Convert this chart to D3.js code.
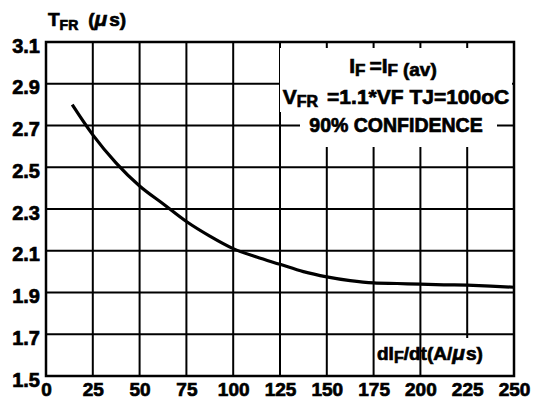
<!DOCTYPE html>
<html><head><meta charset="utf-8">
<script src="https://cdn.jsdelivr.net/npm/d3@7/dist/d3.min.js"></script>
<style>
html,body{margin:0;padding:0;background:#fff;}
svg text{font-family:"Liberation Sans",Arial,sans-serif;font-weight:bold;fill:#000;stroke:#000;stroke-width:0.7px;}
</style></head>
<body>
<svg id="chart" width="534" height="410"></svg>
<script>
// Data
const xTickValues = [0, 25, 50, 75, 100, 125, 150, 175, 200, 225, 250];
const yTickValues = [1.5, 1.7, 1.9, 2.1, 2.3, 2.5, 2.7, 2.9, 3.1];
const diDt = [14, 25, 37.5, 50, 62.5, 75, 87.5, 100, 112.5, 125, 137.5, 150, 162.5, 175, 187.5, 200, 212.5, 225, 237.5, 250];
const tfr  = [2.80, 2.655, 2.52, 2.41, 2.325, 2.24, 2.17, 2.11, 2.07, 2.035, 2.00, 1.975, 1.957, 1.946, 1.943, 1.940, 1.937, 1.935, 1.931, 1.925];

const svg = d3.select("#chart");
const L = 46, R = 514, T = 42, B = 376;
const x = d3.scaleLinear().domain([0, 250]).range([L, R]);
const y = d3.scaleLinear().domain([1.5, 3.1]).range([B, T]);

// grid
const grid = svg.append("g").attr("stroke", "#000").attr("stroke-width", 2);
grid.selectAll("line.v").data(xTickValues).join("line")
  .attr("x1", d => x(d)).attr("x2", d => x(d)).attr("y1", T).attr("y2", B);
grid.selectAll("line.h").data(yTickValues).join("line")
  .attr("y1", d => y(d)).attr("y2", d => y(d)).attr("x1", L).attr("x2", R);

// white boxes behind annotation texts
svg.append("rect").attr("x", 280).attr("y", 48).attr("width", 232).attr("height", 64).attr("fill", "#fff");
svg.append("rect").attr("x", 300).attr("y", 112).attr("width", 197).attr("height", 35).attr("fill", "#fff");
svg.append("rect").attr("x", 440).attr("y", 338).attr("width", 60).attr("height", 37).attr("fill", "#fff");

// frame
svg.append("rect").attr("x", L).attr("y", T).attr("width", R - L).attr("height", B - T)
  .attr("fill", "none").attr("stroke", "#000").attr("stroke-width", 2.5);

// curve
const line = d3.line().x((d, i) => x(diDt[i])).y(d => y(d)).curve(d3.curveMonotoneX);
svg.append("path").datum(tfr).attr("d", line)
  .attr("fill", "none").attr("stroke", "#000").attr("stroke-width", 3.2);

// axes (labels only)
const yAxis = d3.axisLeft(y).tickValues(yTickValues).tickSize(0).tickPadding(6).tickFormat(d3.format(".1f"));
const gy = svg.append("g").attr("transform", `translate(${L},0)`).call(yAxis);
gy.select(".domain").remove();
gy.selectAll("text").attr("font-size", 20).attr("dy", "0.5em")
  .style("font-family", "Liberation Sans, Arial, sans-serif").style("font-weight", "bold");

const xAxis = d3.axisBottom(x).tickValues(xTickValues).tickSize(0).tickPadding(6).tickFormat(d3.format("d"));
const gx = svg.append("g").attr("transform", `translate(0,${B})`).call(xAxis);
gx.select(".domain").remove();
gx.selectAll("text").attr("font-size", 19).attr("dy", "0.75em")
  .style("font-family", "Liberation Sans, Arial, sans-serif").style("font-weight", "bold");

// Y title
const yt = svg.append("text").attr("x", 48).attr("y", 26).attr("font-size", 19);
yt.append("tspan").text("T");
yt.append("tspan").attr("font-size", 14).attr("dy", 4).text("FR");
yt.append("tspan").attr("dy", -4).attr("dx", 10).text("(");
yt.append("tspan").attr("font-style", "italic").attr("font-size", 21).text("μ");
yt.append("tspan").attr("dx", 2).text("s)");

// annotations
const a1 = svg.append("text").attr("x", 393).attr("y", 73).attr("font-size", 21).attr("text-anchor", "middle");
a1.append("tspan").text("I");
a1.append("tspan").attr("font-size", 17).attr("dy", 3).text("F");
a1.append("tspan").attr("dy", -3).attr("dx", 4).text("=I");
a1.append("tspan").attr("font-size", 17).attr("dy", 3).text("F");
a1.append("tspan").attr("font-size", 19).attr("dx", 5).text("(av)");

const a2 = svg.append("text").attr("x", 396).attr("y", 104).attr("font-size", 21).attr("text-anchor", "middle");
a2.append("tspan").text("V");
a2.append("tspan").attr("font-size", 16).attr("dy", 3).text("FR");
a2.append("tspan").attr("dy", -3).attr("dx", 9).text("=1.1*VF TJ=100oC");

svg.append("text").attr("x", 396).attr("y", 132).attr("font-size", 19.5).attr("text-anchor", "middle")
  .text("90% CONFIDENCE");

const xt = svg.append("text").attr("x", 377).attr("y", 360).attr("font-size", 19);
xt.append("tspan").text("dI");
xt.append("tspan").attr("font-size", 16).attr("dy", 3).text("F");
xt.append("tspan").attr("dy", -3).text("/dt(A/");
xt.append("tspan").attr("font-style", "italic").attr("font-size", 21).text("μ");
xt.append("tspan").attr("dx", 1).text("s)");
</script>
</body></html>
